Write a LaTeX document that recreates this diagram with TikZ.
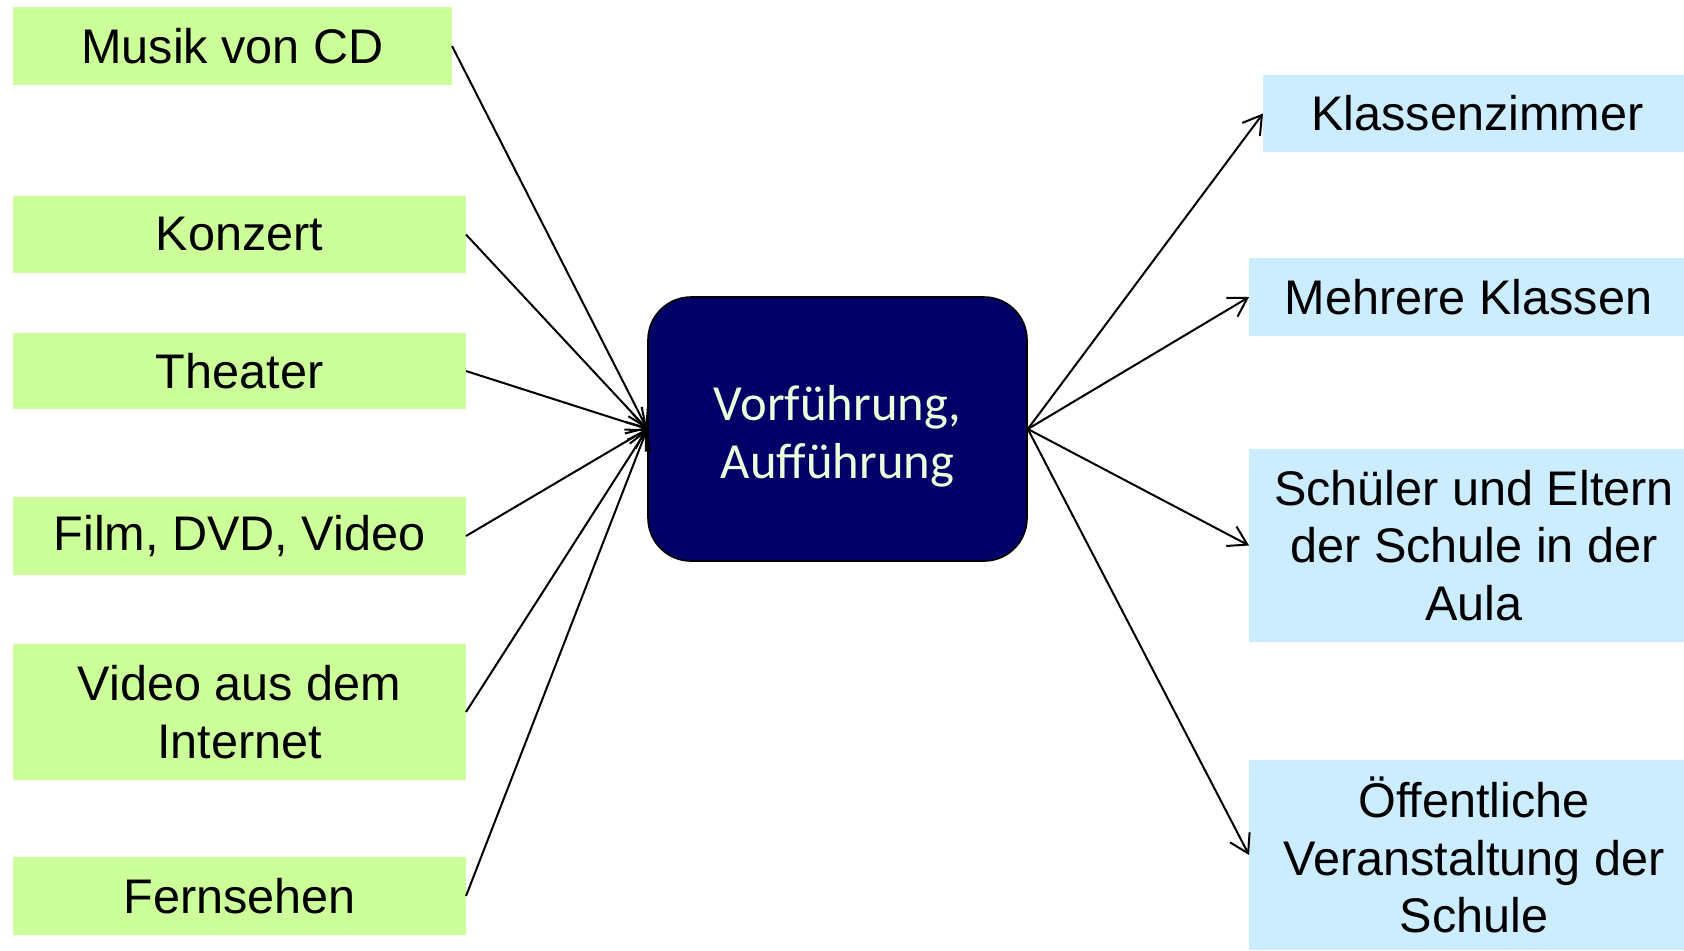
\documentclass[tikz,border=0pt]{standalone}
\usepackage{fontspec}
\setmainfont{Liberation Sans}
\newfontfamily\centerfont{Carlito}
\usetikzlibrary{arrows.meta}
\definecolor{gfill}{HTML}{CCFF99}
\definecolor{bfill}{HTML}{CCECFF}
\definecolor{navyfill}{HTML}{000066}
\definecolor{ctext}{HTML}{EEFFDD}
\tikzset{
  box/.style={inner sep=0pt, outer sep=0pt, align=center, font=\fontsize{24.3}{28.7}\selectfont},
  gbox/.style={box, fill=gfill},
  bbox/.style={box, fill=bfill},
  cbox/.style={draw=black, line width=0.8pt, fill=navyfill, rounded corners=21.5pt, inner sep=0pt},
  ctxt/.style={text=ctext, align=center, inner sep=0pt, font=\centerfont\fontsize{25.3}{28.8}\selectfont},
  conn/.style={line width=1pt, -{Straight Barb[length=9pt,width=11pt,line width=1pt]}}
}
\begin{document}
\begin{tikzpicture}[x=0.5pt,y=-0.5pt]
\useasboundingbox (0,0) rectangle (1684,950);
\fill[white] (0,0) rectangle (1684,950);
% left boxes
\node[gbox, minimum width=219.5pt, minimum height=39pt] (musik) at (232.5,46) {Musik von CD};
\node[gbox, minimum width=226.5pt, minimum height=38.5pt] (konzert) at (239.5,234.5) {Konzert};
\node[gbox, minimum width=226.5pt, minimum height=38pt] (theater) at (239.5,371) {Theater};
\node[gbox, minimum width=226.5pt, minimum height=39pt] (film) at (239.5,536) {Film, DVD, Video};
\node[gbox, minimum width=226.5pt, minimum height=68pt] (video) at (239.5,712) {Video aus dem\\Internet};
\node[gbox, minimum width=226.5pt, minimum height=39pt] (fern) at (239.5,896) {Fernsehen};
% center
\node[cbox, minimum width=189.5pt, minimum height=132pt,
  label={[ctxt, yshift=-3.5pt]center:{Vorführung,\\Aufführung}}] (center) at (837.5,429) {};
% right boxes
\node[bbox, minimum width=214.5pt, minimum height=38.5pt] (klasse) at (1477.5,113.5) {Klassenzimmer};
\node[bbox, minimum width=219.5pt, minimum height=39pt] (mehr) at (1468.5,297) {Mehrere Klassen};
\node[bbox, minimum width=225pt, minimum height=96.5pt] (schueler) at (1474,545.5) {Schüler und Eltern\\der Schule in der\\Aula};
\node[bbox, minimum width=225pt, minimum height=95pt] (oeff) at (1474,855) {Öffentliche\\Veranstaltung der\\Schule};
% connectors
\foreach \n in {musik,konzert,theater,film,video,fern}
  \draw[conn] (\n.east) -- (center.west);
\foreach \n in {klasse,mehr,schueler,oeff}
  \draw[conn] (center.east) -- (\n.west);
\end{tikzpicture}
\end{document}
